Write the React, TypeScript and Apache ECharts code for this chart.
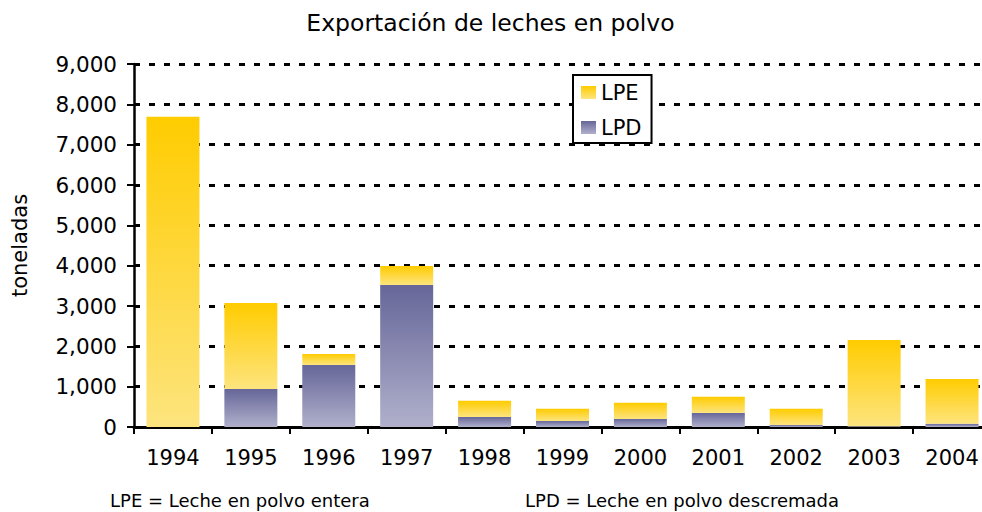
import React, { useEffect, useRef } from "react";
import * as echarts from "echarts";

const years = ["1994", "1995", "1996", "1997", "1998", "1999", "2000", "2001", "2002", "2003", "2004"];
const lpdValues = [0, 940, 1540, 3520, 250, 150, 200, 350, 50, 20, 80];
const lpeValues = [7690, 2135, 270, 470, 400, 300, 400, 400, 400, 2140, 1110];
const yTicks = { min: 0, max: 9000, interval: 1000 };
const titleText = "Exportación de leches en polvo";
const yAxisName = "toneladas";
const footLeft = "LPE = Leche en polvo entera";
const footRight = "LPD = Leche en polvo descremada";

const FONT = "'DejaVu Sans', Verdana, sans-serif";

export default function App() {
  const ref = useRef<HTMLDivElement>(null);
  useEffect(() => {
    if (!ref.current) return;
    const chart = echarts.init(ref.current, undefined, { renderer: "svg" });
    const lpeGrad = new echarts.graphic.LinearGradient(0, 0, 0, 1, [
      { offset: 0, color: "#FFCC00" },
      { offset: 1, color: "#FDE47E" },
    ]);
    const lpdGrad = new echarts.graphic.LinearGradient(0, 0, 0, 1, [
      { offset: 0, color: "#666699" },
      { offset: 1, color: "#B0B0CC" },
    ]);
    chart.setOption({
      animation: false,
      backgroundColor: "#ffffff",
      textStyle: { fontFamily: FONT },
      legend: {
        data: ["LPE", "LPD"],
        orient: "vertical",
        left: 573,
        top: 75,
        padding: [7, 10, 5, 8],
        itemGap: 14,
        itemWidth: 15,
        itemHeight: 13,
        icon: "rect",
        borderColor: "#000",
        borderWidth: 2,
        backgroundColor: "#fff",
        selectedMode: false,
        textStyle: { fontFamily: FONT, fontSize: 21, color: "#000", lineHeight: 21, padding: [0, 0, 0, 0] },
      },
      grid: { left: 134, top: 64, right: 9, bottom: 85, containLabel: false },
      xAxis: {
        type: "category",
        data: years,
        boundaryGap: true,
        axisLine: { show: true, lineStyle: { color: "#000", width: 3 } },
        axisTick: { show: true, alignWithLabel: false, length: 7, lineStyle: { color: "#000", width: 2 } },
        axisLabel: { color: "#000", fontSize: 21, fontFamily: FONT, margin: 20, interval: 0 },
        splitLine: { show: false },
      },
      yAxis: {
        type: "value",
        min: yTicks.min,
        max: yTicks.max,
        interval: yTicks.interval,
        name: yAxisName,
        nameLocation: "middle",
        nameGap: 104,
        nameTextStyle: { fontFamily: FONT, fontSize: 21, color: "#000" },
        axisLine: { show: true, lineStyle: { color: "#000", width: 2.5 } },
        axisTick: { show: true, length: 7, lineStyle: { color: "#000", width: 2 } },
        axisLabel: {
          color: "#000",
          fontSize: 21.5,
          fontFamily: FONT,
          margin: 17,
          formatter: (v: number) => v.toLocaleString("en-US"),
        },
        splitLine: { show: true, lineStyle: { color: "#000", width: 3, type: [6, 9] } },
      },
      series: [
        {
          name: "LPD",
          type: "bar",
          stack: "total",
          data: lpdValues,
          barWidth: 53,
          itemStyle: { color: lpdGrad },
          emphasis: { disabled: true },
        },
        {
          name: "LPE",
          type: "bar",
          stack: "total",
          data: lpeValues,
          barWidth: 53,
          itemStyle: { color: lpeGrad },
          emphasis: { disabled: true },
        },
      ],
      graphic: [
        {
          type: "text",
          x: 490.5,
          y: 11,
          style: {
            text: titleText,
            fontFamily: FONT,
            fontSize: 23.5,
            fill: "#000",
            align: "center",
            verticalAlign: "top",
          },
        },
        {
          type: "text",
          left: 110,
          top: 491,
          style: { text: footLeft, fontFamily: FONT, fontSize: 18, fill: "#000" },
        },
        {
          type: "text",
          left: 525,
          top: 491,
          style: { text: footRight, fontFamily: FONT, fontSize: 18, fill: "#000" },
        },
      ],
    });
    return () => chart.dispose();
  }, []);
  return (
    <div style={{ position: "absolute", left: 0, top: 0, width: 982, height: 512, overflow: "hidden" }}>
      <div ref={ref} style={{ position: "absolute", left: 0, top: 0, width: 1000, height: 512 }} />
    </div>
  );
}
